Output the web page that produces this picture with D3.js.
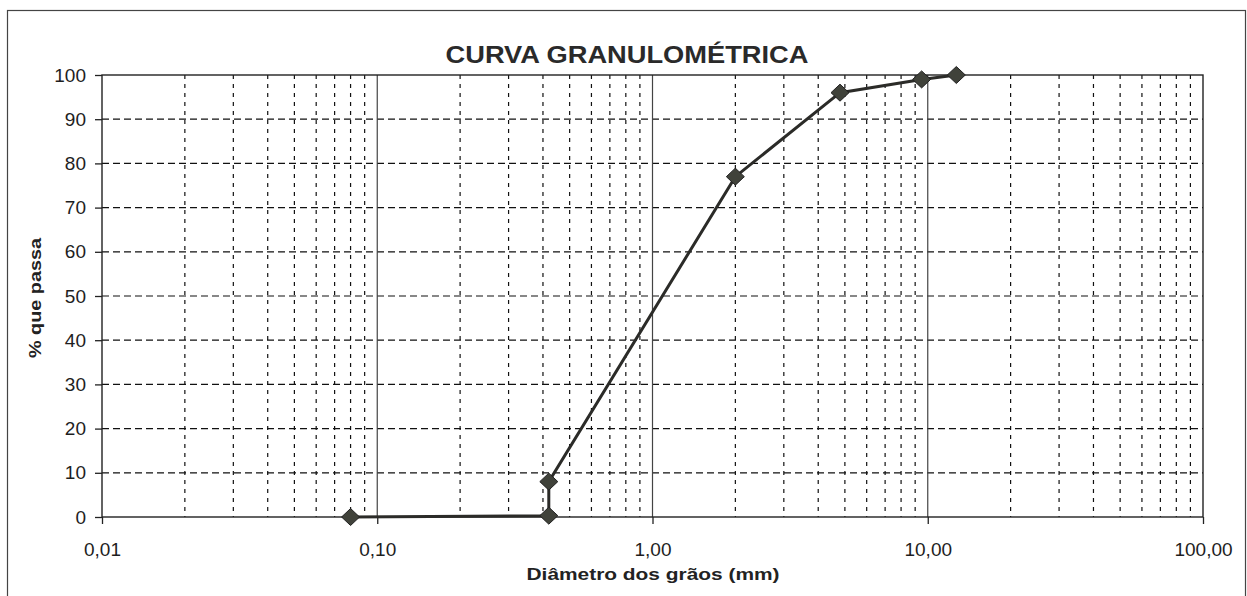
<!DOCTYPE html>
<html>
<head>
<meta charset="utf-8">
<script src="https://cdn.jsdelivr.net/npm/d3@7"></script>
<style>
  body { margin: 0; background: #fff; }
  svg { display: block; font-family: "Liberation Sans", Arial, sans-serif; }
</style>
</head>
<body>
<svg id="chart" width="1247" height="596"></svg>
<script>
// dados
const diametros = [0.08, 0.42, 0.42, 2.0, 4.8, 9.5, 12.7];
const passantes = [0, 0.3, 8, 77, 96, 99, 100];
const xTicks = [0.01, 0.1, 1, 10, 100];
const yTicks = [0, 10, 20, 30, 40, 50, 60, 70, 80, 90, 100];

const svg = d3.select("#chart");
const margin = { top: 75, right: 44, bottom: 79, left: 102 };
const width = 1247, height = 596;

const ptBR = d3.formatLocale({ decimal: ",", thousands: ".", grouping: [3], currency: ["R$", ""] });
const fmt = ptBR.format(".2f");

const x = d3.scaleLog()
  .domain([0.01, 100])
  .range([margin.left, width - margin.right]);

const y = d3.scaleLinear()
  .domain([0, 100])
  .range([height - margin.bottom, margin.top]);

// moldura externa
svg.append("rect")
  .attr("x", 7.5).attr("y", 10.5)
  .attr("width", 1238).attr("height", 620)
  .attr("fill", "none")
  .attr("stroke", "#444")
  .attr("stroke-width", 1.2);

// grade vertical secundaria (2..9 em cada decada)
const minors = [];
[0.01, 0.1, 1, 10].forEach(d => {
  for (let k = 2; k <= 9; k++) minors.push(d * k);
});

svg.append("g")
  .selectAll("line")
  .data(minors)
  .join("line")
  .attr("x1", d => x(d)).attr("x2", d => x(d))
  .attr("y1", y(100)).attr("y2", y(0))
  .attr("stroke", "#111")
  .attr("stroke-width", 1.2)
  .attr("stroke-dasharray", "4,5");

// grade horizontal
svg.append("g")
  .selectAll("line")
  .data(yTicks.filter(v => v > 0 && v < 100))
  .join("line")
  .attr("x1", x(0.01)).attr("x2", x(100))
  .attr("y1", d => y(d)).attr("y2", d => y(d))
  .attr("stroke", "#111")
  .attr("stroke-width", 1.2)
  .attr("stroke-dasharray", "7,4");

// decadas (linhas cheias)
svg.append("g")
  .selectAll("line")
  .data(xTicks.slice(1, -1))
  .join("line")
  .attr("x1", d => x(d)).attr("x2", d => x(d))
  .attr("y1", y(100)).attr("y2", y(0))
  .attr("stroke", "#444")
  .attr("stroke-width", 1.2);

// borda da area do grafico
svg.append("rect")
  .attr("x", x(0.01)).attr("y", y(100))
  .attr("width", x(100) - x(0.01))
  .attr("height", y(0) - y(100))
  .attr("fill", "none")
  .attr("stroke", "#222")
  .attr("stroke-width", 1.4);

// eixos
const xAxis = svg.append("g")
  .attr("transform", `translate(0,${y(0)})`)
  .call(d3.axisBottom(x).tickValues(xTicks).tickFormat(fmt).tickSize(7).tickPadding(19));

const yAxis = svg.append("g")
  .attr("transform", `translate(${x(0.01)},0)`)
  .call(d3.axisLeft(y).tickValues(yTicks).tickFormat(d3.format("d")).tickSize(7).tickPadding(9));

[xAxis, yAxis].forEach(a => {
  a.select(".domain").remove();
  a.selectAll(".tick line").attr("stroke", "#222").attr("stroke-width", 1.3);
  a.selectAll(".tick text")
    .attr("font-family", "'Liberation Sans', Arial, sans-serif")
    .attr("font-size", 19)
    .attr("fill", "#1e1e1e");
});

// curva
const pontos = diametros.map((d, i) => ({ d, p: passantes[i] }));

svg.append("path")
  .datum(pontos)
  .attr("fill", "none")
  .attr("stroke", "#2b2b28")
  .attr("stroke-width", 3)
  .attr("d", d3.line().x(d => x(d.d)).y(d => y(d.p)));

svg.append("g")
  .selectAll("path")
  .data(pontos)
  .join("path")
  .attr("transform", d => `translate(${x(d.d)},${y(d.p)})`)
  .attr("d", "M0,-8.5 L9,0 L0,8.5 L-9,0 Z")
  .attr("fill", "#40423a")
  .attr("stroke", "#222")
  .attr("stroke-width", 1);

// textos
svg.append("text")
  .attr("x", 627).attr("y", 63)
  .attr("text-anchor", "middle")
  .attr("font-size", 24)
  .attr("font-weight", "bold")
  .attr("fill", "#2a2a2a")
  .attr("textLength", 363)
  .attr("lengthAdjust", "spacingAndGlyphs")
  .text("CURVA GRANULOMÉTRICA");

svg.append("text")
  .attr("x", 653).attr("y", 580)
  .attr("text-anchor", "middle")
  .attr("font-size", 17)
  .attr("font-weight", "bold")
  .attr("fill", "#222")
  .attr("textLength", 253)
  .attr("lengthAdjust", "spacingAndGlyphs")
  .text("Diâmetro dos grãos (mm)");

svg.append("text")
  .attr("transform", "translate(41,298) rotate(-90)")
  .attr("text-anchor", "middle")
  .attr("font-size", 17)
  .attr("font-weight", "bold")
  .attr("fill", "#222")
  .attr("textLength", 120)
  .attr("lengthAdjust", "spacingAndGlyphs")
  .text("% que passa");
</script>
</body>
</html>
